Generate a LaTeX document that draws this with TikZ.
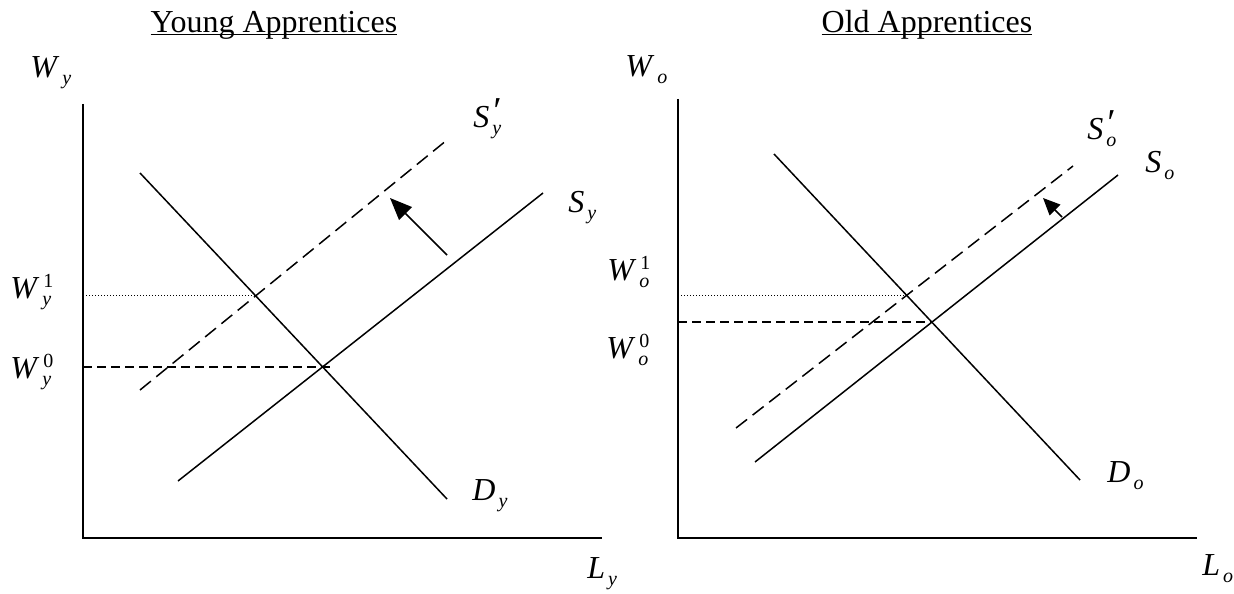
\documentclass[tikz,border=0pt]{standalone}
\usepackage{fontspec}
\setmainfont{Liberation Serif}
\usetikzlibrary{arrows.meta}
\newcommand{\lowidx}[1]{\rlap{\kern1.5pt\raisebox{-3.5pt}{\fontsize{10}{10}\selectfont\textit{#1}}}}
\newcommand{\highidx}[1]{\kern2pt\raisebox{5.5pt}{\fontsize{10}{10}\selectfont #1}}
\newcommand{\primeidx}{\kern1pt\raisebox{2pt}{\fontsize{19}{19}\selectfont\textit{′}}}
\newcommand{\titleline}[1]{\setbox0\hbox{#1}\rlap{\rule[-1pt]{\wd0}{0.5pt}}\box0}

\begin{document}
\begin{tikzpicture}[x=0.5pt, y=-0.5pt,
    axis/.style={line width=1pt},
    curve/.style={line width=0.75pt},
    shifted/.style={curve, dash pattern=on 7pt off 3.5pt},
    guide/.style={line width=0.75pt, dash pattern=on 4.5pt off 2.5pt},
    dots/.style={line width=0.5pt, dash pattern=on 0.5pt off 1pt},
    push/.style={line width=0.75pt, -{Triangle[length=11pt,width=9pt]}},
    lab/.style={inner sep=0pt, anchor=base west, font=\fontsize{16}{19}\selectfont},
    title/.style={inner sep=0pt, anchor=base, font=\fontsize{16}{19}\selectfont},
  ]
    \useasboundingbox (0,0) rectangle (1234,593);

    \node[title] (ty) at (274,33) {\titleline{Young Apprentices}};
    \node[title] (to) at (927,33) {\titleline{Old Apprentices}};

    \coordinate (y0) at (83,538);
    \coordinate (ytop) at (83,104);
    \coordinate (yend) at (602,538);
    \coordinate (dy1) at (140,173);
    \coordinate (dy2) at (447,499);
    \coordinate (sy1) at (178,481);
    \coordinate (sy2) at (543,193);
    \coordinate (spy1) at (140,390);
    \coordinate (spy2) at (447,140);
    \coordinate (ay1) at (447,255);
    \coordinate (ay2) at (390,198);
    \coordinate (ey0) at (intersection of dy1--dy2 and sy1--sy2);
    \coordinate (ey1) at (intersection of dy1--dy2 and spy1--spy2);

    \draw[axis] (ytop) -- (y0) -- (yend);
    \draw[curve] (dy1) -- (dy2);
    \draw[curve] (sy1) -- (sy2);
    \draw[shifted] (spy1) -- (spy2);
    \draw[push] (ay1) -- (ay2);
    \draw[dots] (ey1 -| y0) -- (ey1);
    \draw[guide] (ey0 -| y0) -- ([xshift=5pt]ey0);

    \node[lab] (wy) at (30,78) {\textit{W}\lowidx{y}};
    \node[lab] (wy1) at (10,298) {\textit{W}\lowidx{y}\highidx{1}};
    \node[lab] (wy0) at (10,378) {\textit{W}\lowidx{y}\highidx{0}};
    \node[lab] (spy) at (473,128) {\textit{S}\lowidx{y}\primeidx};
    \node[lab] (sy) at (568,213) {\textit{S}\lowidx{y}};
    \node[lab] (dy) at (472,500) {\textit{D}\lowidx{y}};
    \node[lab] (ly) at (587,578) {\textit{L}\lowidx{y}};

    \coordinate (o0) at (678,538);
    \coordinate (otop) at (678,99);
    \coordinate (oend) at (1197,538);
    \coordinate (do1) at (774,154);
    \coordinate (do2) at (1080,480);
    \coordinate (so1) at (755,462);
    \coordinate (so2) at (1118,175);
    \coordinate (spo1) at (736,428);
    \coordinate (spo2) at (1073,166);
    \coordinate (ao1) at (1062,217);
    \coordinate (ao2) at (1043,198);
    \coordinate (eo0) at (intersection of do1--do2 and so1--so2);
    \coordinate (eo1) at (intersection of do1--do2 and spo1--spo2);

    \draw[axis] (otop) -- (o0) -- (oend);
    \draw[curve] (do1) -- (do2);
    \draw[curve] (so1) -- (so2);
    \draw[shifted] (spo1) -- (spo2);
    \draw[push, -{Triangle[length=8.5pt,width=7.5pt]}] (ao1) -- (ao2);
    \draw[dots] (eo1 -| o0) -- (eo1);
    \draw[guide] (eo0 -| o0) -- (eo0);

    \node[lab] (wo) at (625,77) {\textit{W}\lowidx{o}};
    \node[lab] (wo1) at (607,280) {\textit{W}\lowidx{o}\highidx{1}};
    \node[lab] (wo0) at (606,358) {\textit{W}\lowidx{o}\highidx{0}};
    \node[lab] (spo) at (1087,140) {\textit{S}\lowidx{o}\primeidx};
    \node[lab] (so) at (1145,173) {\textit{S}\lowidx{o}};
    \node[lab] (do) at (1107,482) {\textit{D}\lowidx{o}};
    \node[lab] (lo) at (1202,575) {\textit{L}\lowidx{o}};
  \end{tikzpicture}
\end{document}
